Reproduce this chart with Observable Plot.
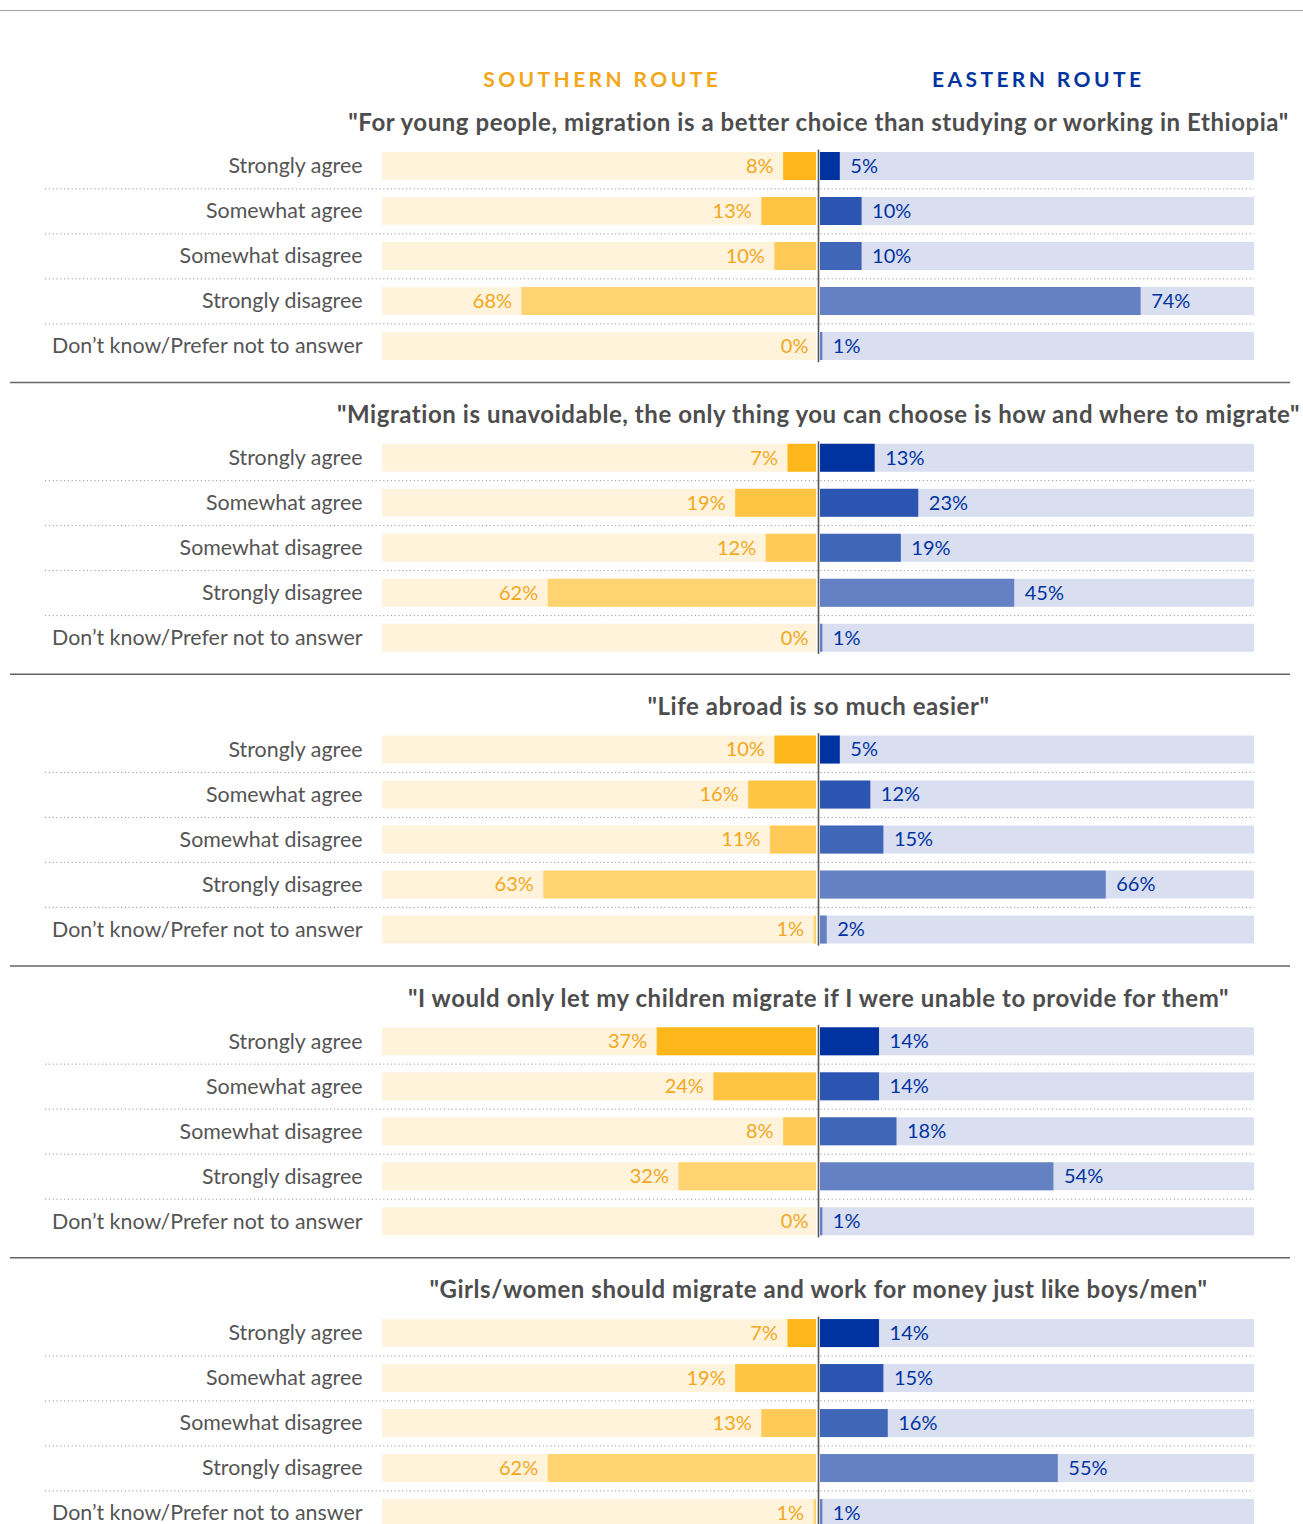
<!DOCTYPE html>
<html>
<head>
<meta charset="utf-8">
<script src="https://cdn.jsdelivr.net/npm/d3@7"></script>
<script src="https://cdn.jsdelivr.net/npm/@observablehq/plot@0.6"></script>
<style>
  html, body { margin: 0; padding: 0; background: #fff; overflow: hidden; }
  #topline { position: absolute; left: 0; top: 10px; width: 100%; border-top: 1.5px solid #a6a6a6; }
</style>
</head>
<body>
<div id="topline"></div>
<div id="chart"></div>
<script>
const statements = [
  "\"For young people, migration is a better choice than studying or working in Ethiopia\"",
  "\"Migration is unavoidable, the only thing you can choose is how and where to migrate\"",
  "\"Life abroad is so much easier\"",
  "\"I would only let my children migrate if I were unable to provide for them\"",
  "\"Girls/women should migrate and work for money just like boys/men\""
];
const responses = ["Strongly agree", "Somewhat agree", "Somewhat disagree", "Strongly disagree", "Don\u2019t know/Prefer not to answer"];
const routes = ["SOUTHERN ROUTE", "EASTERN ROUTE"];
// values in %, one array per statement, in the order of responses
const southern = [
  [8, 13, 10, 68, 0],
  [7, 19, 12, 62, 0],
  [10, 16, 11, 63, 1],
  [37, 24, 8, 32, 0],
  [7, 19, 13, 62, 1]
];
const eastern = [
  [5, 10, 10, 74, 1],
  [13, 23, 19, 45, 1],
  [5, 12, 15, 66, 2],
  [14, 14, 18, 54, 1],
  [14, 15, 16, 55, 1]
];
const southColors = ["#FDB71A", "#FEC444", "#FFCA58", "#FFD470", "#FFD470"];
const eastColors = ["#0033A0", "#2B55B0", "#4066B8", "#6381C3", "#6381C3"];
const southBg = "#FFF3DC";
const eastBg = "#D9DFF1";
const southText = "#F2A71B";
const eastText = "#0033A0";

const rows = [];
statements.forEach((s, si) => responses.forEach((r, ri) => rows.push({
  statement: s, response: r, ri, south: southern[si][ri], east: eastern[si][ri]
})));
const titleRows = statements.map(s => ({statement: s}));
const sepRows = statements.slice(0, -1).map(s => ({statement: s}));
const headerRows = routes.map((label, i) => ({statement: statements[0], label, side: i}));

const rowStep = 45.3;
const chart = Plot.plot({
  width: 1303,
  height: 1547,
  marginTop: 142.6,
  marginBottom: 10.8,
  marginLeft: 382,
  marginRight: 49,
  style: {fontFamily: "Lato, 'Open Sans', sans-serif", fontSize: "20px", background: "#fff"},
  x: {domain: [-100, 100], axis: null},
  y: {domain: responses, paddingInner: 0.38, paddingOuter: 0.19, axis: null},
  fy: {domain: statements, paddingInner: 0.2236, paddingOuter: 0, align: 0.5, axis: null, round: false},
  color: {type: "identity"},
  marks: [
    // backgrounds
    Plot.barX(rows, {fy: "statement", y: "response", x1: -100, x2: 0, fill: southBg, insetRight: 2}),
    Plot.barX(rows, {fy: "statement", y: "response", x1: 0, x2: 100, fill: eastBg, insetLeft: 2}),
    // value bars
    Plot.barX(rows, {fy: "statement", y: "response", x1: d => -d.south, x2: 0, fill: d => southColors[d.ri], insetRight: 2}),
    Plot.barX(rows, {fy: "statement", y: "response", x1: 0, x2: d => d.east, fill: d => eastColors[d.ri], insetLeft: 2}),
    // dotted row separators
    Plot.ruleY(rows.filter(d => d.ri > 0), {fy: "statement", y: "response", dy: -rowStep / 2, insetLeft: -337, stroke: "#9a9a9a", strokeWidth: 1, strokeDasharray: "1.2,2.6"}),
    // center line
    Plot.ruleX([0], {stroke: "#555", strokeWidth: 1.6, insetTop: 7, insetBottom: 7}),
    // panel separators
    Plot.ruleY(sepRows, {fy: "statement", y: () => responses[4], dy: 36, insetLeft: -372, insetRight: -36, stroke: "#666", strokeWidth: 1.5}),
    // response labels
    Plot.text(rows, {fy: "statement", y: "response", x: -100, text: "response", textAnchor: "end", dx: -20, fill: "#555", fontSize: 21.4}),
    // value labels
    Plot.text(rows, {fy: "statement", y: "response", x: d => -d.south, text: d => d.south + "%", textAnchor: "end", dx: -10, fill: southText, fontSize: 20}),
    Plot.text(rows, {fy: "statement", y: "response", x: d => d.east, text: d => d.east + "%", textAnchor: "start", dx: 10, fill: eastText, fontSize: 20}),
    // statement titles
    Plot.text(titleRows, {fy: "statement", x: 0, frameAnchor: "top", lineAnchor: "middle", text: "statement", dy: -19.5, fill: "#4d4d4d", fontSize: 24, fontWeight: "bold"}),
    // route headers
    Plot.text(headerRows, {fy: "statement", x: d => d.side === 0 ? -50 : 50, frameAnchor: "top", lineAnchor: "middle", text: "label", dy: -63, fill: d => d.side === 0 ? southText : eastText, fontSize: 21, fontWeight: "bold"})
  ]
});
const sel = d3.select(chart).selectAll("text");
sel.filter(function() { return /ROUTE$/.test(this.textContent); }).attr("letter-spacing", "3.4px").attr("dx", "1.7");
sel.filter(function() { return /^"/.test(this.textContent); }).attr("letter-spacing", "0.55px");
document.getElementById("chart").appendChild(chart);
</script>
</body>
</html>
